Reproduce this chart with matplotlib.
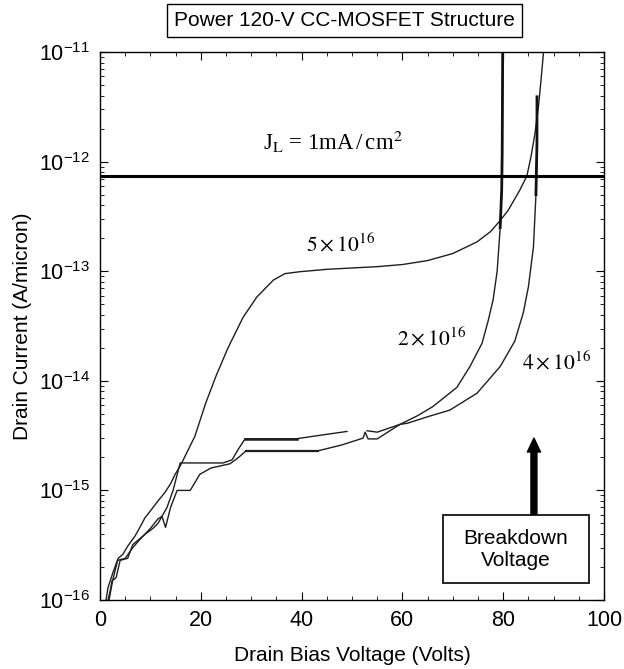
import numpy as np
import matplotlib
matplotlib.use("Agg")
import matplotlib.pyplot as plt
from matplotlib.patches import Rectangle
import matplotlib.ticker as ticker

plt.rcParams['font.family'] = ['Liberation Sans', 'DejaVu Sans']
plt.rcParams['mathtext.fontset'] = 'stix'

# ---- data (V in volts, I in A/micron) ----
v_5e16 = [1.2, 1.6, 2.6, 3.6, 4.5, 5.5, 6.9, 7.8, 8.9, 10.0, 11.5, 12.9, 14.0,
          14.9, 16.0, 17.2, 18.8, 21.0, 23.0, 25.4, 28.4, 31.1, 34.4, 36.7, 39.7,
          45.0, 50.0, 55.0, 60.0, 65.0, 70.0, 74.8, 77.5, 79.4, 81.0, 83.3,
          84.7, 85.5, 86.3, 87.0, 87.5, 88.0]
i_5e16 = [1e-16, 1.3e-16, 1.8e-16, 2.4e-16, 2.6e-16, 3.1e-16, 3.8e-16, 4.5e-16,
          5.6e-16, 6.5e-16, 8.0e-16, 9.6e-16, 1.15e-15, 1.4e-15, 1.7e-15,
          2.2e-15, 3.1e-15, 6.3e-15, 1.1e-14, 2.0e-14, 3.8e-14, 5.8e-14,
          8.3e-14, 9.5e-14, 9.9e-14, 1.04e-13, 1.07e-13, 1.1e-13, 1.15e-13,
          1.25e-13, 1.45e-13, 1.85e-13, 2.3e-13, 2.9e-13, 3.6e-13, 5.5e-13,
          7.4e-13, 1.1e-12, 1.8e-12, 3.2e-12, 5.5e-12, 1e-11]

v_2e16 = [1.6, 2.0, 2.4, 3.2, 4.0, 5.5, 6.5, 7.5, 9.0, 10.5, 11.5, 12.3, 13.3,
          14.5, 15.9, 20.0, 24.4, 26.2, 27.5, 28.8, 34.0, 39.0, 44.0, 49.0,
          np.nan, 53.0, 55.0, 59.5, 63.0, 66.0, 70.8, 73.4, 75.8, 77.0, 78.0,
          78.8, 79.4, 79.7, 79.8, 79.9]
i_2e16 = [1e-16, 1.2e-16, 1.5e-16, 1.6e-16, 2.3e-16, 2.4e-16, 3.2e-16, 3.5e-16,
          4.0e-16, 4.5e-16, 5.0e-16, 5.8e-16, 7.0e-16, 1.0e-15, 1.78e-15,
          1.78e-15, 1.78e-15, 1.9e-15, 2.4e-15, 2.96e-15, 2.96e-15, 2.96e-15,
          3.2e-15, 3.45e-15, np.nan, 3.5e-15, 3.4e-15, 4.0e-15, 4.8e-15,
          5.8e-15, 8.7e-15, 1.35e-14, 2.2e-14, 3.5e-14, 5.5e-14, 1.0e-13,
          2.5e-13, 5.5e-13, 1.2e-12, 1e-11]

v_4e16 = [1.8, 2.5, 3.5, 5.0, 6.5, 8.0, 10.0, 11.5, 12.3, 13.0, 14.0, 15.3,
          17.9, 19.8, 22.0, 25.8, 27.5, 29.0, 36.0, 43.3, 48.0, 52.2, 52.6,
          53.2, 55.0, 59.5, 61.0, 65.0, 69.4, 74.8, 79.4, 82.3, 84.0, 85.0,
          86.0, 86.5, 86.7, 86.7]
i_4e16 = [1e-16, 1.5e-16, 2.3e-16, 2.4e-16, 3.0e-16, 3.6e-16, 4.5e-16, 5.5e-16,
          5.8e-16, 4.6e-16, 7.0e-16, 1.0e-15, 1.0e-15, 1.4e-15, 1.6e-15,
          1.75e-15, 2.0e-15, 2.3e-15, 2.3e-15, 2.3e-15, 2.6e-15, 3.0e-15,
          3.4e-15, 2.95e-15, 2.95e-15, 4.0e-15, 4.1e-15, 4.7e-15, 5.4e-15,
          7.7e-15, 1.35e-14, 2.3e-14, 4.2e-14, 7.2e-14, 1.66e-13, 5.0e-13,
          1.5e-12, 3.9e-12]

j_limit = 7.4e-13
breakdown_v = 86.1
breakdown_tip = 3.0e-15

decades = [1e-16, 1e-15, 1e-14, 1e-13, 1e-12, 1e-11]

fig = plt.figure(figsize=(6.24, 6.69), dpi=100)
ax = fig.add_axes([100/624, 1 - 600/669, 504/624, 548/669])

for v, i in [(v_5e16, i_5e16), (v_2e16, i_2e16), (v_4e16, i_4e16)]:
    ax.plot(v, i, color='#1e1e1e', lw=1.0)

# heavier stretches (flat plateaus and breakdown verticals)
ax.plot(v_2e16[19:22], i_2e16[19:22], color='#1e1e1e', lw=1.8)
ax.plot(v_2e16[-4:], i_2e16[-4:], color='#111111', lw=2.0)
ax.plot(v_4e16[17:20], i_4e16[17:20], color='#1e1e1e', lw=1.6)
ax.plot(v_4e16[-3:], i_4e16[-3:], color='#111111', lw=2.0)

ax.axhline(j_limit, color='black', lw=2.2)

ax.set_yscale('log')
ax.set_xlim(0, 100)
ax.set_ylim(decades[0], decades[-1])
ax.yaxis.set_major_locator(ticker.FixedLocator(decades))
ax.yaxis.set_minor_locator(ticker.FixedLocator(
    [d * k for d in decades[:-1] for k in range(2, 10)]))
ax.yaxis.set_minor_formatter(ticker.NullFormatter())
ax.xaxis.set_major_locator(ticker.FixedLocator(range(0, 101, 20)))
ax.xaxis.set_minor_locator(ticker.FixedLocator(range(5, 100, 5)))
ax.tick_params(which='both', direction='in', top=True, right=True,
               labelsize=15.5, colors='black')
ax.tick_params(which='major', length=6, pad=7)
ax.tick_params(which='minor', length=3, labelleft=False, labelbottom=False)
for s in ax.spines.values():
    s.set_linewidth(1.0)

ax.set_xlabel('Drain Bias Voltage (Volts)', fontsize=15, labelpad=11)
ax.set_ylabel('Drain Current (A/micron)', fontsize=15, labelpad=5)

serif = ['Liberation Serif', 'DejaVu Serif']
ax.text(46.2, 1.5e-12, r'J$_{\rm L}$ = 1mA$\,$/$\,$cm$^2$', fontsize=16.5,
        family=serif, ha='center', va='center')
ax.text(47.7, 1.74e-13, r'$5\times10^{16}$', fontsize=15.5, family=serif,
        ha='center', va='center')
ax.text(65.7, 2.4e-14, r'$2\times10^{16}$', fontsize=15.5, family=serif,
        ha='center', va='center')
ax.text(90.5, 1.45e-14, r'$4\times10^{16}$', fontsize=15.5, family=serif,
        ha='center', va='center')

# breakdown box + arrow
bx0, bx1 = (443 - 100) / 504, (589 - 100) / 504
by0, by1 = (600 - 583) / 548, (600 - 515) / 548
ax.add_patch(Rectangle((bx0, by0), bx1 - bx0, by1 - by0, transform=ax.transAxes,
                       fill=True, facecolor='white', edgecolor='black',
                       lw=1.2, zorder=5))
ax.text((bx0 + bx1) / 2, (by0 + by1) / 2, 'Breakdown\nVoltage', fontsize=15,
        ha='center', va='center', transform=ax.transAxes, zorder=6,
        linespacing=1.2)
ax.annotate('', xy=(breakdown_v, breakdown_tip),
            xytext=(breakdown_v, 10 ** (-15.23)),
            arrowprops=dict(facecolor='black', edgecolor='black', width=4.3,
                            headwidth=9.5, headlength=10, shrink=0))

fig.text(344.5 / 624, 1 - 20.5 / 669, 'Power 120-V CC-MOSFET Structure',
         fontsize=15, ha='center', va='center',
         bbox=dict(boxstyle='square,pad=0.33', facecolor='white',
                   edgecolor='black', lw=1.0))

fig.savefig('out.png', dpi=100)
